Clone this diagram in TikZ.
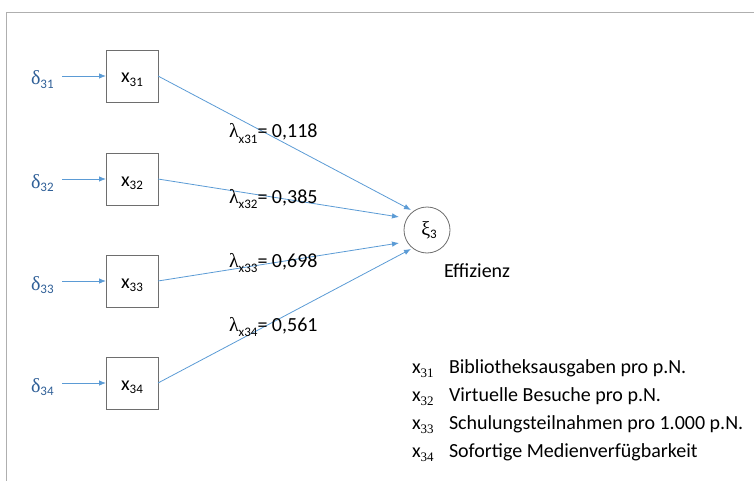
\documentclass[tikz,border=0pt]{standalone}
\usepackage{fontspec}
\setmainfont{Carlito}
\newfontfamily\grk{Liberation Serif}
\usetikzlibrary{arrows.meta}

\definecolor{arrowblue}{HTML}{5B9BD5}
\definecolor{deltablue}{HTML}{2F5F97}
\definecolor{framegray}{HTML}{AFAFAF}
\definecolor{boxgray}{HTML}{6E6E6E}

% lowered index in sans (Carlito) or serif
\newcommand\idxsans[1]{\raisebox{-0.4ex}{\fontsize{13}{13}\selectfont #1}}
\newcommand\idxserif[1]{\raisebox{-0.45ex}{\fontsize{13}{13}\selectfont\grk #1}}
\newcommand\loadidx[1]{\raisebox{-0.55ex}{\fontsize{13}{13}\selectfont #1}}

\begin{document}
\begin{tikzpicture}[x=1pt,y=-1pt,
  every node/.style={inner sep=0pt, outer sep=0pt},
  frameline/.style={framegray, line width=1.2pt},
  indicator/.style={draw=boxgray, line width=0.8pt, minimum width=52pt, minimum height=52pt, fill=white,
    text height=14pt, text depth=0pt, font=\fontsize{20}{20}\selectfont},
  latent/.style={draw=boxgray, circle, line width=0.8pt, minimum size=46pt,
    font=\fontsize{20}{20}\selectfont},
  errlabel/.style={anchor=base west, text=deltablue, font=\fontsize{20}{20}\selectfont},
  loading/.style={anchor=base west, font=\fontsize{20}{20}\selectfont},
  legend/.style={anchor=base west, font=\fontsize{20}{20}\selectfont},
  link/.style={arrowblue, line width=0.8pt, -{Latex[length=7pt,width=5.5pt]}}
]
\useasboundingbox (0,0) rectangle (754,481);

% partial frame: top and left edge
\draw[frameline] (6.5,481) -- (6.5,12.5) -- (754,12.5);

% indicator boxes
\node[indicator] (b1) at (132,76)  {x\idxsans{31}};
\node[indicator] (b2) at (132,179) {x\idxsans{32}};
\node[indicator] (b3) at (132,281) {x\idxsans{33}};
\node[indicator] (b4) at (132,383) {x\idxsans{34}};

% error terms
\node[errlabel] (d1) at (31,85)  {{\grk δ}\idxsans{31}};
\node[errlabel] (d2) at (31,188) {{\grk δ}\idxsans{32}};
\node[errlabel] (d3) at (31,290) {{\grk δ}\idxsans{33}};
\node[errlabel] (d4) at (31,392) {{\grk δ}\idxsans{34}};

\coordinate (s1) at (62,76);
\coordinate (s2) at (62,179);
\coordinate (s3) at (62,281);
\coordinate (s4) at (62,383);
\draw[link] (s1) -- (b1.west);
\draw[link] (s2) -- (b2.west);
\draw[link] (s3) -- (b3.west);
\draw[link] (s4) -- (b4.west);

% latent variable
\node[latent] (xi) at (427,230) {\hspace*{4pt}{\grk ξ}\idxsans{3}};
\node[legend] (eff) at (444,277) {Effizienz};

% loadings
\coordinate (e1) at (411,210);
\coordinate (e2) at (399,217);
\coordinate (e3) at (399,243);
\coordinate (e4) at (411,249);
\draw[link] (b1.east) -- (e1);
\draw[link] (b2.east) -- (e2);
\draw[link] (b3.east) -- (e3);
\draw[link] (b4.east) -- (e4);

\node[loading] (l1) at (229,138) {{\grk λ}\loadidx{x31}= 0,118};
\node[loading] (l2) at (229,203) {{\grk λ}\loadidx{x32}= 0,385};
\node[loading] (l3) at (229,267) {{\grk λ}\loadidx{x33}= 0,698};
\node[loading] (l4) at (229,331) {{\grk λ}\loadidx{x34}= 0,561};

% legend
\node[legend] (k1) at (412,373) {x\idxserif{31}};
\node[legend] (k2) at (412,401) {x\idxserif{32}};
\node[legend] (k3) at (412,429) {x\idxserif{33}};
\node[legend] (k4) at (412,457) {x\idxserif{34}};
\node[legend] (t1) at (449,373) {Bibliotheksausgaben pro p.N.};
\node[legend] (t2) at (449,401) {Virtuelle Besuche pro p.N.};
\node[legend] (t3) at (449,429) {Schulungsteilnahmen pro 1.000 p.N.};
\node[legend] (t4) at (449,457) {Sofortige Medienverfügbarkeit};
\end{tikzpicture}
\end{document}
